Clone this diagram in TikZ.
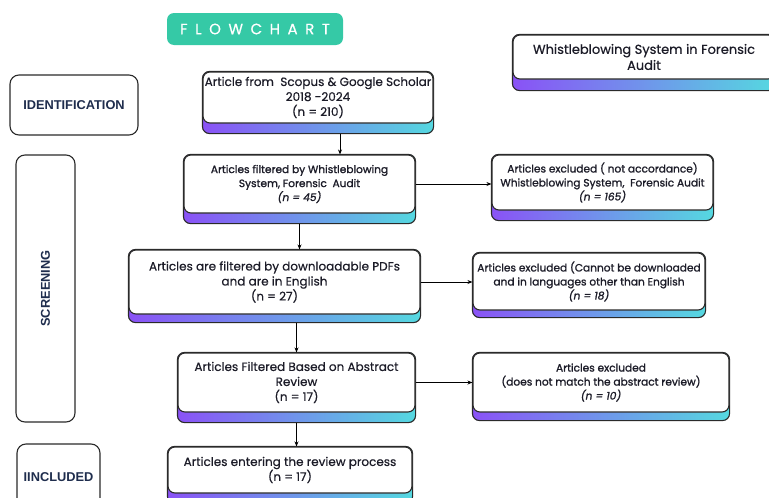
\documentclass[tikz,border=0pt]{standalone}
\usepackage{fontspec}
\setmainfont{Poppins}
\newfontfamily\popm[FakeBold=0.5]{Poppins}
\newfontfamily\pops[FakeBold=1.3]{Poppins}
\newfontfamily\labfont{Liberation Sans}
\usetikzlibrary{arrows.meta,backgrounds}
\definecolor{gpurple}{HTML}{8A52F6}
\definecolor{gcyan}{HTML}{55D8E0}
\definecolor{fgreen}{HTML}{35C9A6}
\definecolor{txt}{HTML}{1C1C28}
\definecolor{labtxt}{HTML}{1F2D4D}
\definecolor{edge}{HTML}{2A2A2A}
\tikzset{
  wbox/.style={draw=edge, line width=1.1pt, fill=white, rounded corners=7pt, align=center, text=txt, inner sep=1pt, font=\popm\fontsize{12}{15}\selectfont},
  sbox/.style={wbox, font=\pops\fontsize{10.6}{14}\selectfont},
  gbar/.style={draw=edge, line width=1.1pt, rounded corners=7pt, left color=gpurple, right color=gcyan},
  labbox/.style={draw=edge, line width=1.1pt, fill=white, rounded corners=9pt, align=center, text=labtxt, font=\labfont\bfseries\fontsize{12.8}{14}\selectfont},
  arr/.style={draw=black, line width=0.8pt, -{Stealth[length=5pt,width=4pt]}}
}
\begin{document}
\begin{tikzpicture}[x=1pt,y=-1pt]
\useasboundingbox (0,0) rectangle (769,498);
% title pill
\node[fill=fgreen, rounded corners=7pt, minimum width=176pt, minimum height=32pt, text=white, font=\popm\fontsize{15}{15}\selectfont] (FC) at (255,29) {F\kern7.5pt L\kern7.5pt O\kern7.5pt W\kern7.5pt C\kern7.5pt H\kern7.5pt A\kern7.5pt R\kern7.5pt T};
% stage labels
\node[labbox, minimum width=128pt, minimum height=60pt] (ID) at (74,105) {IDENTIFICATION};
\node[labbox, minimum width=59pt, minimum height=267pt] (SC) at (45.5,288.5) {};
\node[rotate=90, text=labtxt, font=\labfont\bfseries\fontsize{12.8}{14}\selectfont] (SCt) at (SC.center) {SCREENING};
\node[labbox, minimum width=83pt, minimum height=66pt] (IN) at (58.5,477) {IINCLUDED};
% boxes
\node[wbox, minimum width=262pt, minimum height=44pt, font=\popm\fontsize{13}{16}\selectfont] (T) at (644,57) {Whistleblowing System in Forensic\\Audit};
\node[wbox, minimum width=230pt, minimum height=51pt] (B1) at (318,97.5) {Article from\ \ Scopus \& Google Scholar\\2018 -2024\\(n = 210)};
\node[sbox, minimum width=231pt, minimum height=58pt] (B2) at (299.5,184) {Articles filtered by Whistleblowing\\System, Forensic\ \ Audit\\\textit{(n = 45)}};
\node[sbox, minimum width=221pt, minimum height=55pt] (B3) at (602.5,182.5) {Articles excluded ( not accordance)\\Whistleblowing System,\ \ Forensic Audit\\\textit{(n = 165)}};
\node[wbox, minimum width=291pt, minimum height=64pt] (B4) at (274.5,282) {Articles are filtered by downloadable PDFs\\and are in English\\(n = 27)};
\node[sbox, minimum width=232pt, minimum height=57pt] (B5) at (589,281.5) {Articles excluded (Cannot be downloaded\\and in languages other than English\\\textit{(n = 18)}};
\node[wbox, minimum width=237pt, minimum height=59pt] (B6) at (296.5,382.5) {Articles Filtered Based on Abstract\\Review\\(n = 17)};
\node[sbox, minimum width=256pt, minimum height=59pt] (B7) at (601,382.5) {Articles excluded\\(does not match the abstract review)\\\textit{(n = 10)}};
\node[wbox, minimum width=244pt, minimum height=46pt] (B8) at (290,470) {Articles entering the review process\\(n = 17)};
% gradient bars behind
\begin{scope}[on background layer]
\foreach \n/\d in {T/11,B1/10,B2/10,B3/10,B4/8,B5/7,B6/10,B7/8,B8/10}{
  \draw[gbar] (\n.north west) rectangle ([yshift=-\d pt]\n.south east);
}
\end{scope}
% connectors
\draw[arr] ([xshift=22pt,yshift=-10pt]B1.south) -- ([xshift=22pt]B1.south |- B2.north);
\draw[arr] ([yshift=-10pt]B2.south) -- (B2.south |- B4.north);
\draw[arr] ([yshift=-8pt]B4.south -| B6.north) -- (B6.north);
\draw[arr] ([yshift=-10pt]B6.south) -- (B6.south |- B8.north);
\draw[arr] (B2.east) -- (B2.east -| B3.west);
\draw[arr] (B4.east) -- (B4.east -| B5.west);
\draw[arr] (B6.east) -- (B6.east -| B7.west);
\end{tikzpicture}
\end{document}
